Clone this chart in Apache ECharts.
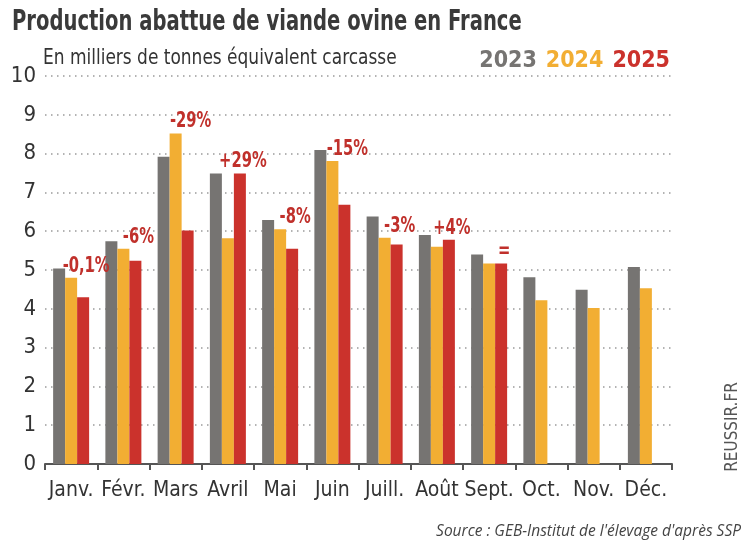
<!DOCTYPE html>
<html>
<head>
<meta charset="utf-8">
<script src="https://cdn.jsdelivr.net/npm/echarts@6/dist/echarts.min.js"></script>
<style>
  html, body { margin: 0; padding: 0; background: #fff; }
  #chart { width: 747px; height: 558px; }
</style>
</head>
<body>
<div id="chart"></div>
<script>
// Production abattue de viande ovine — monthly bars, 3 years, % change labels over 2025.
var MONTHS = ["Janv.", "Févr.", "Mars", "Avril", "Mai", "Juin", "Juill.", "Août", "Sept.", "Oct.", "Nov.", "Déc."];
var Y2023 = [5.04, 5.74, 7.92, 7.49, 6.29, 8.09, 6.38, 5.90, 5.40, 4.81, 4.49, 5.08];
var Y2024 = [4.80, 5.55, 8.52, 5.82, 6.05, 7.81, 5.83, 5.60, 5.17, 4.22, 4.02, 4.53];
var Y2025 = [4.30, 5.24, 6.02, 7.49, 5.55, 6.68, 5.66, 5.78, 5.17, null, null, null];
var CHANGE = ["-0,1%", "-6%", "-29%", "+29%", "-8%", "-15%", "-3%", "+4%", "=", null, null, null];
var Y_TICKS = { min: 0, max: 10, interval: 1 };

var GRAY = "#767472", YELLOW = "#f2ae33", RED = "#cb322c";
var COND = "'DejaVu Sans Condensed', 'DejaVu Sans', sans-serif";

// anchor for the change labels: top of the taller of the two recent bars
var labelData = [];
CHANGE.forEach(function (c, i) {
  if (c !== null) labelData.push([i, Math.max(Y2024[i], Y2025[i])]);
});

var chart = echarts.init(document.getElementById("chart"), null, { renderer: "canvas" });

function barSeries(name, data, color) {
  return {
    name: name, type: "bar", data: data, barWidth: 12, barGap: "0%",
    itemStyle: { color: color }, z: 2
  };
}

chart.setOption({
  animation: false,
  grid: { left: 45, right: 75, top: 76, bottom: 94, containLabel: false },
  legend: {
    right: 72, top: 45, icon: "rect", itemWidth: 0, itemHeight: 0, itemGap: 9,
    selectedMode: false,
    textStyle: { fontFamily: COND, fontWeight: "bold", fontSize: 23, padding: [0, 0, 0, -5] },
    data: [
      { name: "2023", textStyle: { color: GRAY } },
      { name: "2024", textStyle: { color: YELLOW } },
      { name: "2025", textStyle: { color: RED } }
    ]
  },
  xAxis: {
    type: "category", data: MONTHS,
    axisLine: { lineStyle: { color: "#555", width: 2 } },
    axisTick: { show: true, length: 6, lineStyle: { color: "#555", width: 2 } },
    axisLabel: { interval: 0, fontFamily: COND, fontSize: 21, color: "#333", margin: 16 }
  },
  yAxis: {
    type: "value", min: Y_TICKS.min, max: Y_TICKS.max, interval: Y_TICKS.interval,
    axisLine: { show: false }, axisTick: { show: false },
    axisLabel: { fontFamily: COND, fontSize: 22, color: "#333", margin: 9 },
    splitLine: { lineStyle: { color: "#9a9a9a", width: 1.5, type: [1.5, 4.5] } }
  },
  series: [
    barSeries("2023", Y2023, GRAY),
    barSeries("2024", Y2024, YELLOW),
    barSeries("2025", Y2025, RED),
    {
      type: "custom", silent: true, z: 5, data: labelData,
      renderItem: function (params, api) {
        var pt = api.coord([api.value(0), api.value(1)]);
        return {
          type: "text", x: pt[0] + 15, y: pt[1] - 1, scaleX: 0.78,
          style: {
            text: CHANGE[api.value(0)], fill: "#c0302b",
            font: "bold 21px " + COND, textAlign: "center", textVerticalAlign: "bottom"
          }
        };
      }
    }
  ],
  graphic: [
    {
      type: "text", x: 12, y: 8, scaleX: 0.75,
      style: {
        text: "Production abattue de viande ovine en France",
        font: "bold 29px " + COND, fill: "#3a3a3a"
      }
    },
    {
      type: "text", x: 43, y: 48, scaleX: 0.9,
      style: {
        text: "En milliers de tonnes équivalent carcasse",
        font: "21px " + COND, fill: "#333"
      }
    },
    {
      type: "text", right: 6, top: 524,
      style: {
        text: "Source : GEB-Institut de l'élevage d'après SSP",
        font: "italic 15.5px 'Open Sans', sans-serif", fill: "#444"
      }
    },
    {
      type: "text", x: 733, y: 427, rotation: Math.PI / 2,
      style: {
        text: "REUSSIR.FR", font: "17px " + COND, fill: "#555",
        textAlign: "center", textVerticalAlign: "middle"
      }
    }
  ]
});
</script>
</body>
</html>
